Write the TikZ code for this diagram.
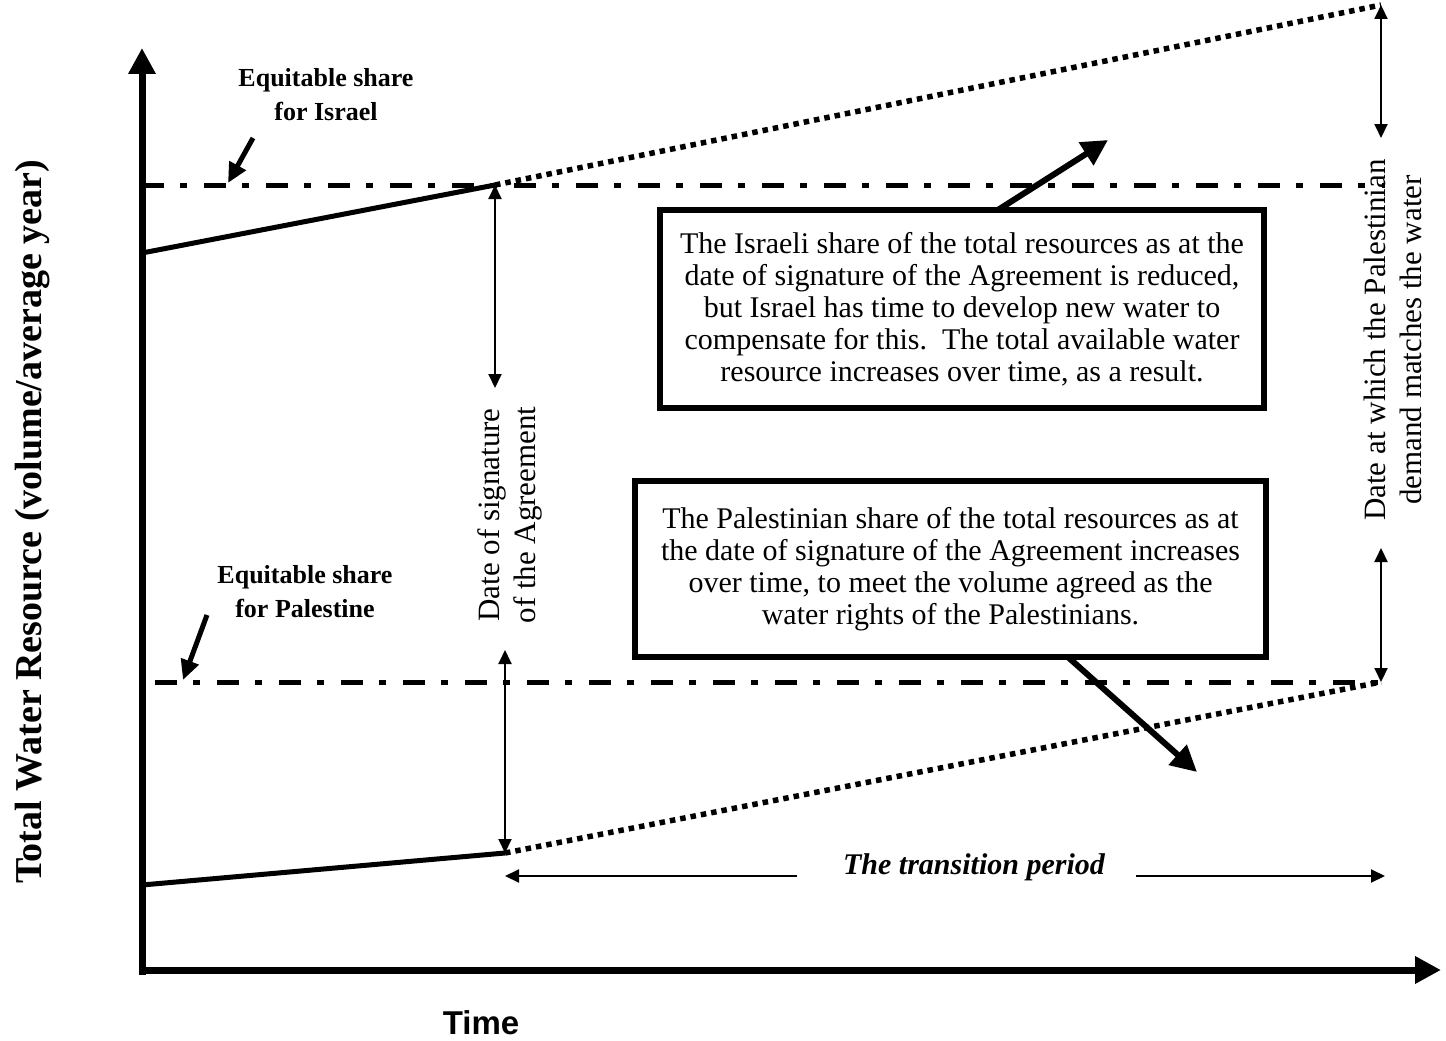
\documentclass[tikz,border=0pt]{standalone}
\usepackage{fontspec}
\setmainfont{Liberation Serif}
\newfontfamily\timefont{Liberation Sans}
\usetikzlibrary{arrows.meta}
\begin{document}
\begin{tikzpicture}[x=1pt,y=-1pt,
  axis/.style={line width=7pt,-{Triangle[length=26pt,width=26pt]}},
  share/.style={line width=5pt,dash pattern=on 22pt off 16pt on 7pt off 17pt},
  solidline/.style={line width=5pt},
  dotline/.style={line width=5.5pt,dash pattern=on 5.5pt off 5pt},
  dim/.style={line width=2pt,{Triangle[length=14pt,width=13pt]}-{Triangle[length=14pt,width=13pt]}},
  onearrow/.style={line width=2pt,-{Triangle[length=14pt,width=13pt]}},
  callout/.style={line width=6pt,-{Triangle[length=26pt,width=26pt]}},
  pointer/.style={line width=5pt,-{Triangle[length=20pt,width=18pt]}},
  box/.style={draw,line width=6pt,fill=white,align=center,inner sep=0pt,
    font=\fontsize{30}{32}\selectfont},
  lbl/.style={align=center,font=\fontsize{26}{34}\selectfont\bfseries},
  rot/.style={rotate=90,align=center,font=\fontsize{31}{36}\selectfont},
]
\useasboundingbox (0,0) rectangle (1446,1041);
\fill[white] (0,0) rectangle (1446,1041);

% named points
\coordinate (ytop) at (142,48);
\coordinate (xend) at (1441,970);
\coordinate (i0) at (142,253);
\coordinate (i1) at (495,185);
\coordinate (i2) at (1381,5);
\coordinate (p0) at (142,885);
\coordinate (p1) at (505,853);
\coordinate (p2) at (1381,682);
\coordinate (ishL) at (142,185);
\coordinate (ishR) at (1385,185);
\coordinate (pshL) at (155,682);
\coordinate (pshR) at (1385,682);
\coordinate (d1b) at (495,388);
\coordinate (d2t) at (505,650);
\coordinate (r1b) at (1381,138);
\coordinate (r2t) at (1381,548);
\coordinate (trL) at (505,876);
\coordinate (trR) at (1385,876);
\coordinate (icS) at (990,215);
\coordinate (icT) at (1108,140);
\coordinate (pcS) at (1060,650);
\coordinate (pcT) at (1197,772);
\coordinate (ipS) at (253,138);
\coordinate (ipT) at (228,183);
\coordinate (ppS) at (207,615);
\coordinate (ppT) at (183,680);
\coordinate (yb) at (142,975);
\coordinate (xb) at (138.5,970);

% share lines
\draw[share] (ishL) -- (ishR);
\draw[share] (pshL) -- (pshR);

% resource lines
\draw[solidline] (i0) -- (i1);
\draw[dotline] (i1) -- (i2);
\draw[solidline] (p0) -- (p1);
\draw[dotline] (p1) -- (p2);

% axes
\draw[axis] (yb) -- (ytop);
\draw[axis] (xb) -- (xend);

% dimension arrows
\draw[dim] (i1) -- (d1b);
\draw[dim] (d2t) -- (p1);
\draw[dim] (i2) -- (r1b);
\draw[dim] (r2t) -- (p2);

% rotated labels
\node[rot] (sig) at (510,515) {Date of signature\\of the Agreement};
\node[rot] (dem) at (1393,340) {Date at which the Palestinian\\demand matches the water};

% callout arrows (behind boxes)
\draw[callout] (icS) -- (icT);
\draw[callout] (pcS) -- (pcT);

% boxes
\node[box,minimum width=604pt,minimum height=198pt] (ibox) at (962,309)
  {The Israeli share of the total resources as at the\\
   date of signature of the Agreement is reduced,\\
   but Israel has time to develop new water to\\
   compensate for this.\ \ The total available water\\
   resource increases over time, as a result.};
\node[box,minimum width=631pt,minimum height=176pt] (pbox) at (950.5,569)
  {The Palestinian share of the total resources as at\\
   the date of signature of the Agreement increases\\
   over time, to meet the volume agreed as the\\
   water rights of the Palestinians.};

% equitable share labels
\node[lbl] (ilbl) at (326,95) {Equitable share\\for Israel};
\node[lbl] (plbl) at (305,592) {Equitable share\\for Palestine};
\draw[pointer] (ipS) -- (ipT);
\draw[pointer] (ppS) -- (ppT);

% transition period
\node[font=\fontsize{30}{32}\selectfont\bfseries\itshape] (trans) at (974,867) {The transition period};
\draw[onearrow] (797,876) -- (trL);
\draw[onearrow] (1136,876) -- (trR);

% axis labels
\node[rotate=90,font=\fontsize{38}{40}\selectfont\bfseries] (ylbl) at (33,522)
  {Total Water Resource (volume/average year)};
\node[font=\timefont\fontsize{33}{36}\selectfont\bfseries] (xlbl) at (481,1023) {Time};
\end{tikzpicture}
\end{document}
